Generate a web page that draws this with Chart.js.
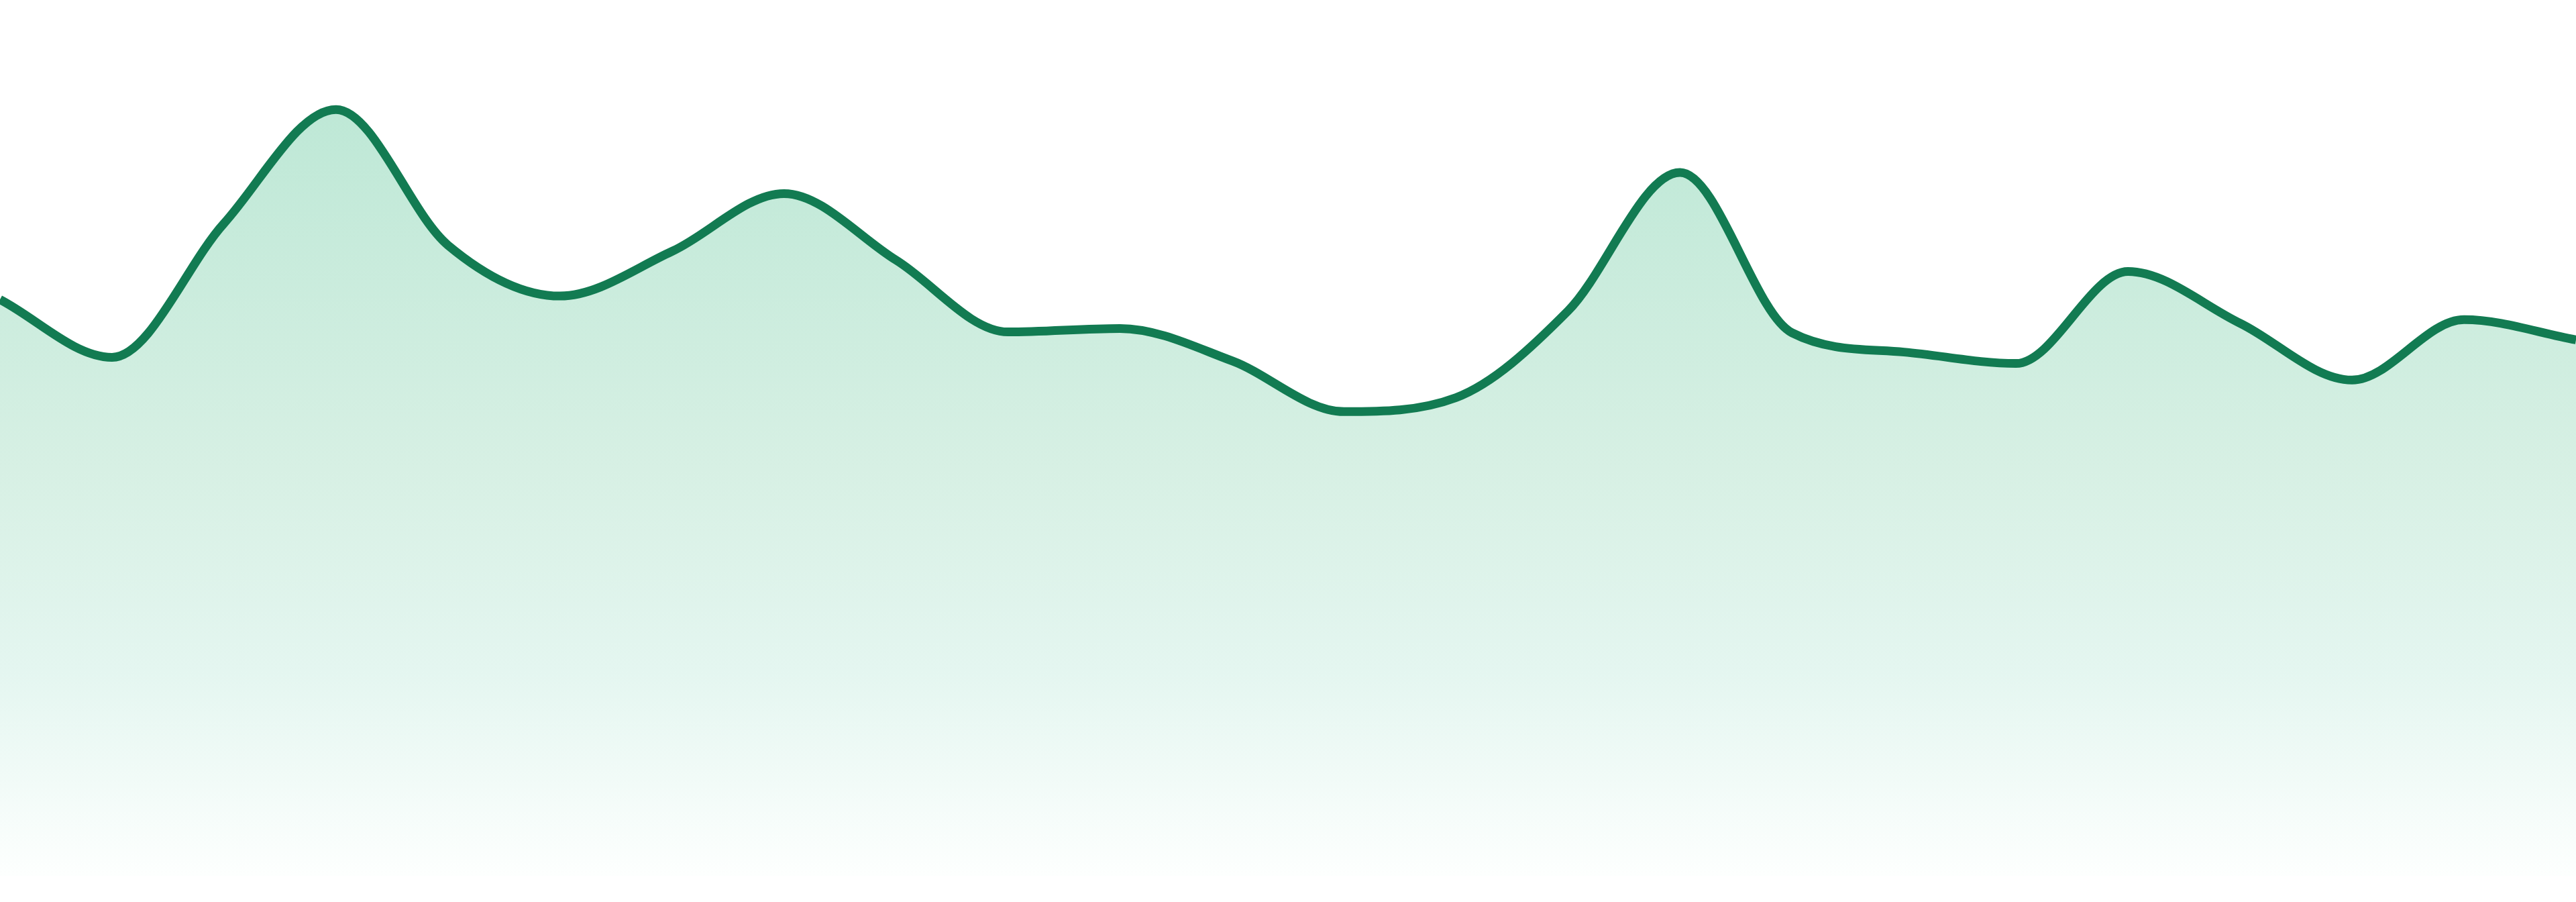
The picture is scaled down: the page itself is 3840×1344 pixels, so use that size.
<!DOCTYPE html>
<html>
<head>
<meta charset="utf-8">
<script src="https://cdn.jsdelivr.net/npm/chart.js@4"></script>
<style>
  html, body { margin: 0; padding: 0; background: #ffffff; }
  #wrap { width: 3840px; height: 1344px; position: relative; }
</style>
</head>
<body>
<div id="wrap"><canvas id="c"></canvas></div>
<script>
const categories = ["1","2","3","4","5","6","7","8","9","10","11","12","13","14","15","16","17","18","19","20","21","22","23","24"];
const values = [65.8, 59.2, 74.5, 87.5, 72.0, 66.2, 71.3, 77.9, 70.3, 62.1, 62.5, 58.8, 53.0, 54.6, 64.5, 80.3, 62.0, 59.8, 58.5, 69.0, 63.1, 56.6, 63.5, 61.2];
const yMin = 0;
const yMax = 100;

function fillGradient(context) {
  const chart = context.chart;
  const area = chart.chartArea;
  if (!area) return 'rgba(190,232,214,1)';
  const g = chart.ctx.createLinearGradient(0, area.top, 0, area.bottom);
  g.addColorStop(0, 'rgb(183,229,210)');
  g.addColorStop(0.125, 'rgb(190,232,214)');
  g.addColorStop(0.536, 'rgb(215,240,228)');
  g.addColorStop(0.766, 'rgb(228,246,240)');
  g.addColorStop(1, 'rgb(253,255,254)');
  return g;
}

new Chart(document.getElementById('c'), {
  type: 'line',
  data: {
    labels: categories,
    datasets: [{
      data: values,
      borderColor: '#127b52',
      borderWidth: 13,
      backgroundColor: fillGradient,
      fill: 'origin',
      cubicInterpolationMode: 'monotone',
      tension: 0.4,
      pointRadius: 0,
      pointHoverRadius: 0,
      pointHitRadius: 0
    }]
  },
  options: {
    responsive: true,
    maintainAspectRatio: false,
    devicePixelRatio: 1,
    animation: false,
    layout: { autoPadding: false, padding: { top: 0, left: 0, right: 0, bottom: 39 } },
    plugins: { legend: { display: false }, tooltip: { enabled: false } },
    scales: {
      x: { display: false, offset: false },
      y: { display: false, min: yMin, max: yMax }
    }
  }
});
</script>
</body>
</html>
